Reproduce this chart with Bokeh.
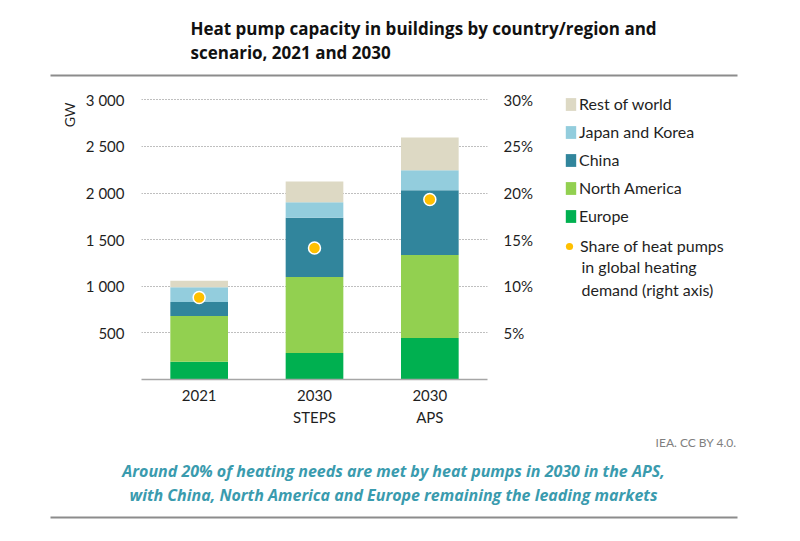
import math
from bokeh.plotting import figure
from bokeh.layouts import column, row
from bokeh.models import (ColumnDataSource, FactorRange, Range1d, LinearAxis, FixedTicker,
                          Legend, LegendItem, Label, BoxAnnotation, Title)
from bokeh.embed import file_html
from bokeh.resources import INLINE

# ---------------- data ----------------
CATEGORIES = ["2021", "2030\nSTEPS", "2030\nAPS"]
SERIES = ["Europe", "North America", "China", "Japan and Korea", "Rest of world"]
EUROPE = [190, 285, 445]
NORTH_AMERICA = [490, 815, 890]
CHINA = [150, 635, 695]
JAPAN_KOREA = [160, 165, 215]
REST_OF_WORLD = [70, 225, 350]
SHARE_PCT = [8.8, 14.1, 19.3]
COLORS = ["#00B050", "#92D050", "#31859C", "#93CDDD", "#DDD9C4"]
DOT_COLOR = "#FFC000"

LEFT_TICKS = [500, 1000, 1500, 2000, 2500, 3000]
LEFT_TICK_LABELS = ["500", "1 000", "1 500", "2 000", "2 500", "3 000"]
RIGHT_TICKS = [5, 10, 15, 20, 25, 30]
RIGHT_TICK_LABELS = ["5%", "10%", "15%", "20%", "25%", "30%"]

TITLE_LINES = ["Heat pump capacity in buildings by country/region and",
               "scenario, 2021 and 2030"]
SUBTITLE_LINES = ["Around 20% of heating needs are met by heat pumps in 2030 in the APS,",
                  "with China, North America and Europe remaining the leading markets"]
SOURCE = "IEA. CC BY 4.0."
Y_LABEL = "GW"
SHARE_LABEL_LINES = ["Share of heat pumps", "in global heating", "demand (right axis)"]

FONT = "Lato"
HEAD_FONT = "Open Sans"
TEXT_COLOR = "#1f1f1f"
RULE_COLOR = "#8c8c8c"
NAN = float("nan")


def blank(width, height):
    f = figure(width=width, height=height, output_backend="svg", toolbar_location=None,
               tools="", x_axis_location=None, y_axis_location=None,
               x_range=Range1d(0, width), y_range=Range1d(0, height),
               min_border=0, min_border_left=0, min_border_right=0,
               min_border_top=0, min_border_bottom=0)
    f.outline_line_color = None
    f.grid.visible = False
    f.background_fill_color = "white"
    f.border_fill_color = "white"
    return f


def rule(f, left, right, bottom, top):
    f.add_layout(BoxAnnotation(left=left, right=right, top=top, bottom=bottom,
                               left_units="screen", right_units="screen",
                               top_units="screen", bottom_units="screen",
                               fill_color=RULE_COLOR, fill_alpha=1, line_color=None))


# ---------------- title strip ----------------
top = blank(800, 80)
for i, line in enumerate(TITLE_LINES):
    top.add_layout(Label(x=190, y=52 - 24 * i, x_units="screen", y_units="screen", text=line,
                         text_font=HEAD_FONT, text_font_style="bold", text_font_size="17px",
                         text_color="#111111", text_baseline="middle", text_align="left"))
rule(top, 50, 737, 4, 6)

# ---------------- chart ----------------
CHART_W = 549
source = ColumnDataSource(dict(cat=CATEGORIES, Europe=EUROPE, **{"North America": NORTH_AMERICA},
                               China=CHINA, **{"Japan and Korea": JAPAN_KOREA},
                               **{"Rest of world": REST_OF_WORLD}, share=SHARE_PCT))

chart = figure(width=CHART_W, height=355, x_range=FactorRange(*CATEGORIES),
               y_range=Range1d(0, 3100), output_backend="svg", toolbar_location=None, tools="",
               title=None,
               min_border_left=141, min_border_right=CHART_W - 487, min_border_top=10,
               min_border_bottom=56)
chart.outline_line_color = None
chart.background_fill_color = "white"
chart.border_fill_color = "white"
chart.extra_y_ranges = {"share": Range1d(0, 31)}

bars = chart.vbar_stack(SERIES, x="cat", width=0.5, color=COLORS, line_color=None, source=source)
dots = chart.scatter(x="cat", y="share", y_range_name="share", source=source, size=12,
                     fill_color=DOT_COLOR, line_color="white", line_width=1.5)

yax = chart.yaxis[0]
yax.ticker = FixedTicker(ticks=LEFT_TICKS)
yax.major_label_overrides = dict(zip(LEFT_TICKS, LEFT_TICK_LABELS))
yax.axis_line_color = None
yax.major_tick_line_color = None
yax.minor_tick_line_color = None
yax.major_tick_out = 0
yax.major_label_standoff = 17
yax.major_label_text_font = FONT
yax.major_label_text_font_size = "15px"
yax.major_label_text_color = TEXT_COLOR

rax = LinearAxis(y_range_name="share", ticker=FixedTicker(ticks=RIGHT_TICKS))
rax.major_label_overrides = dict(zip(RIGHT_TICKS, RIGHT_TICK_LABELS))
rax.axis_line_color = None
rax.major_tick_line_color = None
rax.minor_tick_line_color = None
rax.major_tick_out = 0
rax.major_label_standoff = 16
rax.major_label_text_font = FONT
rax.major_label_text_font_size = "15px"
rax.major_label_text_color = TEXT_COLOR
chart.add_layout(rax, "right")

xax = chart.xaxis[0]
xax.axis_line_color = "#a6a6a6"
xax.axis_line_width = 1.5
xax.major_tick_line_color = None
xax.minor_tick_line_color = None
xax.major_tick_out = 0
xax.major_label_standoff = 6
xax.major_label_text_font = FONT
xax.major_label_text_font_size = "15px"
xax.major_label_text_color = TEXT_COLOR
xax.major_label_text_line_height = 1.25

chart.xgrid.grid_line_color = None
chart.ygrid.ticker = FixedTicker(ticks=LEFT_TICKS)
chart.ygrid.grid_line_color = "#7f7f7f"
chart.ygrid.grid_line_dash = "1 2"
chart.ygrid.grid_line_width = 1

chart.add_layout(Title(text=Y_LABEL, align="right", offset=12, text_font=FONT,
                       text_font_size="14px", text_font_style="normal",
                       text_color=TEXT_COLOR), "left")

# ---------------- legend panel (frame aligned with the chart frame by the row) ----------------
LEG_W, LEG_H = 800 - CHART_W, 355
leg = blank(LEG_W, LEG_H)
keys = [leg.vbar(x=[NAN], top=[NAN], width=1, fill_color=c, line_color=None) for c in COLORS]
dot_key = leg.scatter(x=[NAN], y=[NAN], size=12, fill_color=DOT_COLOR, line_color=None)

common = dict(orientation="vertical", padding=0, margin=0, border_line_color=None,
              background_fill_alpha=0, label_text_font=FONT, label_text_font_size="16px",
              label_text_color=TEXT_COLOR, label_standoff=2, label_height=13)
legend_a = Legend(items=[LegendItem(label=SERIES[i], renderers=[keys[i]]) for i in range(4, -1, -1)],
                  location=(15, 154), glyph_width=13, glyph_height=16, spacing=9, **common)
leg.add_layout(legend_a)
legend_b = Legend(items=[LegendItem(label=SHARE_LABEL_LINES[0], renderers=[dot_key])],
                  location=(11, 124), glyph_width=18, glyph_height=18, spacing=0, **common)
leg.add_layout(legend_b)
for i, line in enumerate(SHARE_LABEL_LINES[1:]):
    leg.add_layout(Label(x=32, y=112.8 - 22.3 * i, x_units="screen", y_units="screen",
                         text=line, text_font=FONT, text_font_size="16px",
                         text_color=TEXT_COLOR, text_baseline="middle", text_align="left"))

# ---------------- bottom strip ----------------
bottom = blank(800, 106)
bottom.add_layout(Label(x=736, y=99.3, x_units="screen", y_units="screen", text=SOURCE,
                        text_font=FONT, text_font_size="12px", text_color="#7f7f7f",
                        text_baseline="middle", text_align="right"))
for i, line in enumerate(SUBTITLE_LINES):
    bottom.add_layout(Label(x=393, y=71 - 24 * i, x_units="screen", y_units="screen", text=line,
                            text_font=HEAD_FONT, text_font_style="bold italic",
                            text_font_size="16px", text_color="#3A9BAE",
                            text_baseline="middle", text_align="center"))
rule(bottom, 50, 737, 23, 25)

p = column(top, row(chart, leg), bottom)
open("out.html", "w").write(file_html(p, INLINE))
